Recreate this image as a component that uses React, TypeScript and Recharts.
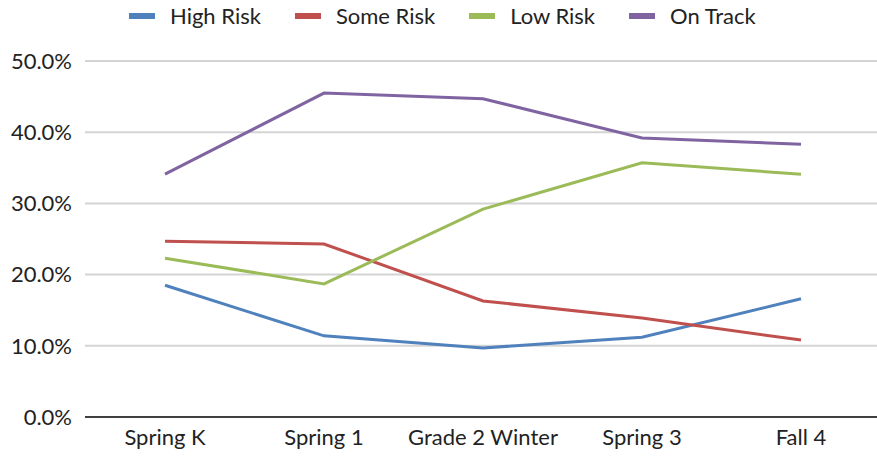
import { LineChart, Line, XAxis, YAxis, CartesianGrid } from 'recharts'

const categories = ['Spring K', 'Spring 1', 'Grade 2 Winter', 'Spring 3', 'Fall 4']
const highRisk = [18.5, 11.4, 9.7, 11.2, 16.6]
const someRisk = [24.7, 24.3, 16.3, 13.9, 10.8]
const lowRisk = [22.3, 18.7, 29.2, 35.7, 34.1]
const onTrack = [34.1, 45.5, 44.7, 39.2, 38.3]
const yTicks = [0, 10, 20, 30, 40, 50]

const series = [
  { key: 'high', name: 'High Risk', color: '#4F81BD', values: highRisk },
  { key: 'some', name: 'Some Risk', color: '#C0504D', values: someRisk },
  { key: 'low', name: 'Low Risk', color: '#9BBB59', values: lowRisk },
  { key: 'track', name: 'On Track', color: '#8064A2', values: onTrack },
]

const data = categories.map((c, i) => {
  const row: Record<string, string | number> = { cat: c }
  series.forEach(s => { row[s.key] = s.values[i] })
  return row
})

const font = 'Lato, Carlito, Calibri, sans-serif'

// legend drawn outside recharts so it doesn't eat into the plot offset
function LegendRow() {
  return (
    <div style={{ position: 'absolute', top: 3, left: 129, display: 'flex', alignItems: 'center', fontFamily: font, fontSize: 22, color: '#222', lineHeight: '26px' }}>
      {series.map(s => (
        <div key={s.key} style={{ display: 'flex', alignItems: 'center', marginRight: 34 }}>
          <span style={{ display: 'inline-block', width: 26, height: 6, background: s.color, marginRight: 15 }} />
          <span>{s.name}</span>
        </div>
      ))}
    </div>
  )
}

export default function App() {
  return (
    <div style={{ position: 'absolute', left: 0, top: 0, width: 877, height: 456, overflow: 'hidden', background: '#fff' }}>
      <LineChart width={877} height={456} data={data} margin={{ top: 61, right: 0, bottom: 0, left: 0 }}>
        <CartesianGrid vertical={false} stroke="#d4d4d4" strokeWidth={2} />
        <XAxis
          dataKey="cat"
          height={39}
          padding={{ left: 80, right: 76 }}
          tickLine={false}
          tickSize={0}
          tickMargin={12}
          axisLine={{ stroke: '#404040', strokeWidth: 2 }}
          tick={{ fontSize: 22, fill: '#222', fontFamily: font }}
          interval={0}
        />
        <YAxis
          width={85}
          domain={[0, 50]}
          ticks={yTicks}
          tickFormatter={v => `${Number(v).toFixed(1)}%`}
          axisLine={false}
          tickLine={false}
          tickSize={0}
          tickMargin={13}
          tick={{ fontSize: 22, fill: '#222', fontFamily: font }}
        />
        {series.map(s => (
          <Line
            key={s.key}
            dataKey={s.key}
            name={s.name}
            stroke={s.color}
            strokeWidth={3}
            dot={false}
            activeDot={false}
            isAnimationActive={false}
          />
        ))}
      </LineChart>
      <LegendRow />
    </div>
  )
}
